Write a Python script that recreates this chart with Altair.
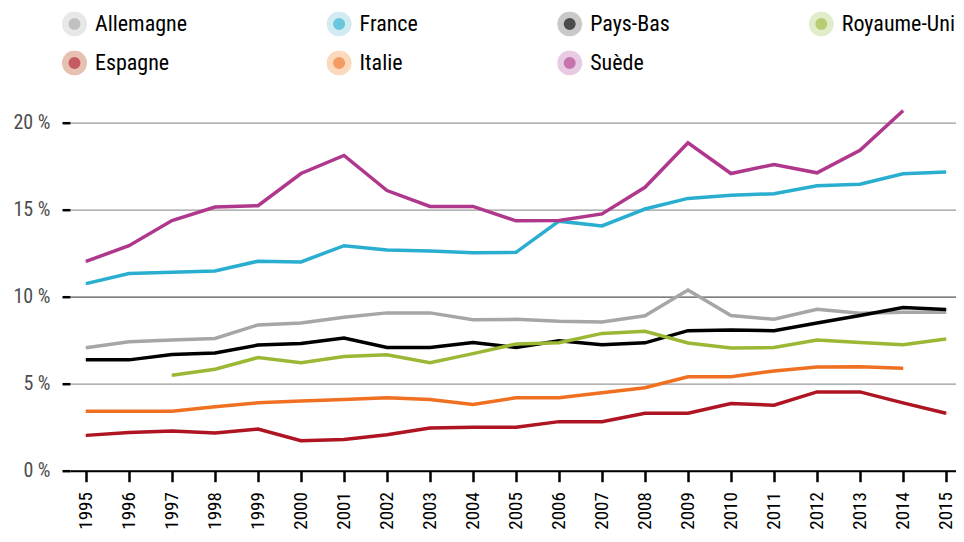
import altair as alt
import pandas as pd

annees = list(range(1995, 2016))
pays = ["Allemagne", "France", "Pays-Bas", "Royaume-Uni", "Espagne", "Italie", "Suède"]

allemagne = [7.06, 7.41, 7.51, 7.60, 8.38, 8.49, 8.82, 9.07, 9.07, 8.67, 8.70,
             8.59, 8.55, 8.90, 10.38, 8.92, 8.70, 9.28, 9.05, 9.10, 9.10]
france = [10.75, 11.33, 11.41, 11.48, 12.04, 12.00, 12.93, 12.68, 12.62, 12.52, 12.55,
          14.34, 14.07, 15.04, 15.65, 15.83, 15.92, 16.37, 16.46, 17.06, 17.16]
pays_bas = [6.37, 6.37, 6.68, 6.76, 7.22, 7.31, 7.63, 7.08, 7.08, 7.37, 7.08,
            7.47, 7.24, 7.35, 8.05, 8.09, 8.05, 8.49, 8.92, 9.38, 9.26]
royaume_uni = [None, None, 5.48, 5.83, 6.50, 6.21, 6.56, 6.66, 6.21, 6.73, 7.28,
               7.35, 7.89, 8.01, 7.34, 7.05, 7.08, 7.51, 7.37, 7.24, 7.57]
espagne = [2.03, 2.20, 2.28, 2.16, 2.39, 1.72, 1.80, 2.07, 2.45, 2.49, 2.50,
           2.82, 2.82, 3.30, 3.30, 3.86, 3.76, 4.53, 4.53, 3.90, 3.30]
italie = [3.42, 3.42, 3.42, 3.67, 3.90, 4.00, 4.09, 4.19, 4.09, 3.80, 4.19,
          4.19, 4.48, 4.77, 5.40, 5.40, 5.73, 5.96, 5.98, 5.89, None]
suede = [12.03, 12.93, 14.38, 15.15, 15.23, 17.08, 18.12, 16.10, 15.19, 15.19, 14.36,
         14.38, 14.76, 16.29, 18.84, 17.08, 17.60, 17.12, 18.41, 20.69, None]

couleurs = ["#a6a6a6", "#2aaed0", "#000000", "#9bb835", "#ae1421", "#f07022", "#b0388c"]
halos = ["#dedee0", "#bfe3ee", "#b3b3b3", "#d8e4b4", "#dca590", "#fbc9a0", "#ddb6d8"]

series = dict(zip(pays, [allemagne, france, pays_bas, royaume_uni, espagne, italie, suede]))
rows = []
for p, vals in series.items():
    for a, v in zip(annees, vals):
        if v is not None:
            rows.append({"pays": p, "annee": a, "valeur": v})
df = pd.DataFrame(rows)

FONT = "Roboto Condensed, Liberation Sans Narrow, DejaVu Sans Condensed, sans-serif"

x = alt.X("annee:Q",
          scale=alt.Scale(domain=[1994.628, 2015.233], nice=False, zero=False),
          axis=alt.Axis(values=annees, format="d", labelAngle=-90, grid=False,
                        domainColor="#000000", domainWidth=2,
                        tickColor="#000000", tickWidth=2.5, tickSize=11,
                        labelPadding=10, labelFontSize=19, labelColor="#000000",
                        labelFont=FONT),
          title=None)
y = alt.Y("valeur:Q",
          scale=alt.Scale(domain=[0, 20], nice=False),
          axis=alt.Axis(values=[0, 5, 10, 15, 20], labelExpr="datum.value + ' %'",
                        domain=False, grid=True,
                        gridColor={"condition": {"test": "datum.value === 10", "value": "#555555"},
                                   "value": "#9a9a9a"},
                        gridWidth=1.3,
                        tickColor="#000000", tickWidth=2.5, tickSize=8,
                        labelPadding=12, labelFontSize=20, labelColor="#4d4d4d",
                        labelFont=FONT),
          title=None)

leg = dict(orient="none", legendX=-8, legendY=-111.2, columns=4, direction="horizontal",
           title=None, symbolType="circle", symbolSize=342, symbolStrokeWidth=6.5,
           labelFontSize=22, labelFont=FONT, labelColor="#000000", labelOffset=8,
           columnPadding=138.6, rowPadding=14, gridAlign="each", clipHeight=25)

points = alt.Chart(df).mark_point(filled=True, size=1).encode(
    x=x, y=y,
    fill=alt.Fill("pays:N", scale=alt.Scale(domain=pays, range=couleurs), legend=alt.Legend(**leg)),
    stroke=alt.Stroke("pays:N", scale=alt.Scale(domain=pays, range=halos), legend=alt.Legend(**leg)),
)

lines = alt.Chart(df).mark_line(strokeWidth=3.5).encode(
    x=x, y=y,
    color=alt.Color("pays:N", scale=alt.Scale(domain=pays, range=couleurs), legend=None),
)

chart = alt.layer(points, lines).properties(
    width=886, height=348,
    autosize=alt.AutoSizeParams(type="none"),
    padding={"left": 62, "top": 114.7, "right": 0, "bottom": 63.3},
).configure(font=FONT).configure_view(stroke=None, strokeWidth=0)

chart.save("out.html", embed_options={"renderer": "svg", "actions": False})
